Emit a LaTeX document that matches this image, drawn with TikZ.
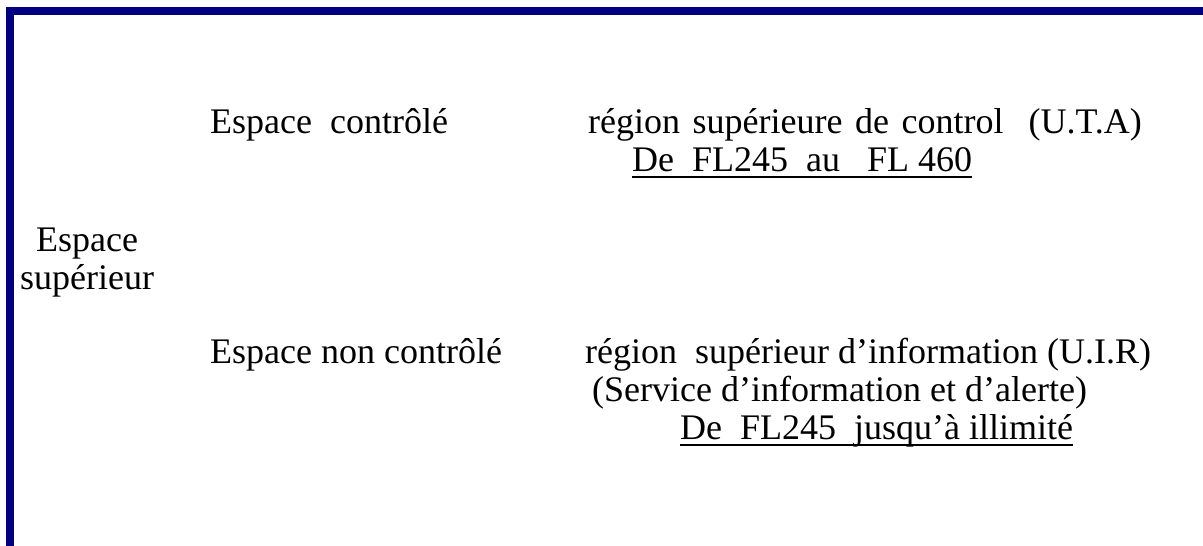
\documentclass[tikz,border=0pt]{standalone}
\usepackage{fontspec}
\setmainfont{Liberation Serif}
\definecolor{framenavy}{RGB}{0,0,128}
\begin{document}
\begin{tikzpicture}[x=1pt,y=-1pt,
  txt/.style={anchor=base west,inner sep=0pt,font=\fontsize{36}{42}\selectfont},
  ulline/.style={line width=1.8pt,black},
  frame/.style={line width=8pt,framenavy}]
\useasboundingbox (0,0) rectangle (1203,546);
\draw[frame] (10,546) -- (10,10.5) -- (1203,10.5);
% upper group
\node[txt] (ec) at (210,133) {Espace~ contrôlé};
\node[txt] (rsc) at (588,133) {\spaceskip=12.5pt région supérieure de control~ (U.T.A)};
\node[txt] (fl1) at (632,171) {De~ FL245~ au~~ FL 460};
\draw[ulline] ([yshift=-6pt]fl1.base west) -- ([yshift=-6pt]fl1.base east);
% left label
\node[txt] (es1) at (36,251) {Espace};
\node[txt] (es2) at (20,289) {supérieur};
% lower group
\node[txt] (enc) at (210,363) {Espace non contrôlé};
\node[txt] (rsi) at (585,363) {région~ supérieur d’information (U.I.R)};
\node[txt] (sia) at (592,401) {(Service d’information et d’alerte)};
\node[txt] (fl2) at (680,439) {De~ FL245~ jusqu’à illimité};
\draw[ulline] ([yshift=-6pt]fl2.base west) -- ([yshift=-6pt]fl2.base east);
\end{tikzpicture}
\end{document}
